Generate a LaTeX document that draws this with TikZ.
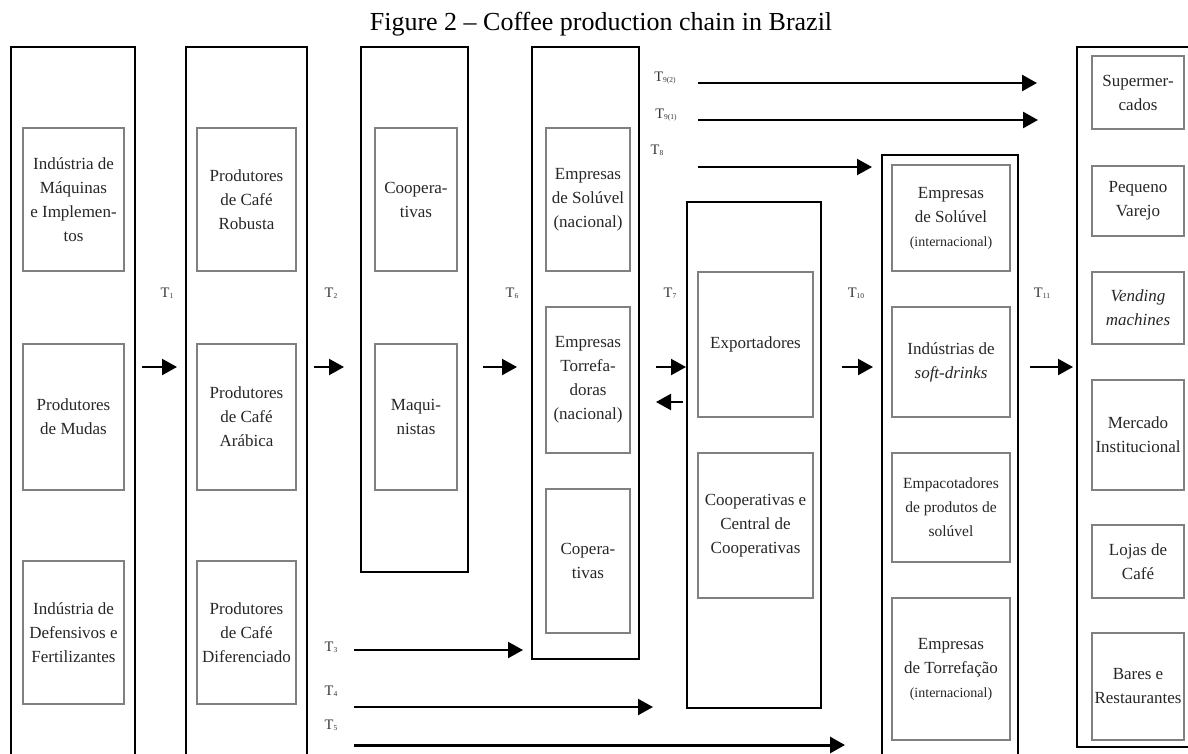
\documentclass[tikz,border=0pt]{standalone}
\usepackage{fontspec}
\setmainfont{Liberation Serif}
\usetikzlibrary{arrows.meta}
\tikzset{
  obox/.style={draw=black, line width=2.8pt, inner sep=0pt},
  ibox/.style={draw=black!50, line width=1.1pt, inner sep=0pt, align=center, text=black!85, font=\fontsize{17}{24}\selectfont},
  tlab/.style={font=\fontsize{14.5}{14.5}\selectfont, text=black!80, inner sep=0pt},
  arr/.style={line width=2.2pt, -{Triangle[length=15pt,width=16pt]}},
  titlestyle/.style={font=\fontsize{26}{30}\selectfont, inner sep=0pt},
}
\newcommand{\innerbx}[6]{\node[ibox,minimum width={(#4-#2)*1pt},minimum height={(#5-#3)*1pt}] (#1) at ({(#2+#4)/2},{(#3+#5)/2}) {#6};}
\newcommand{\outerbx}[5]{\node[obox,minimum width={(#4-#2)*1pt},minimum height={(#5-#3)*1pt}] (#1) at ({(#2+#4)/2},{(#3+#5)/2}) {};}
\newcommand{\tsb}[1]{\raisebox{-1pt}{\fontsize{7.5}{7.5}\selectfont #1}}
\newcommand{\smallintl}[1]{{\fontsize{14}{24}\selectfont #1}}
\begin{document}
\begin{tikzpicture}[x=1pt,y=-1pt]
\useasboundingbox (0,0) rectangle (1188,753);
\clip (0,0) rectangle (1188,753);

\node[titlestyle] (title) at (601,24) {Figure 2 -- Coffee production chain in Brazil};

% outer boxes
\outerbx{c1}{11}{47}{135}{775}
\outerbx{c2}{186}{47}{307}{775}
\outerbx{c3}{361}{47}{468}{572}
\outerbx{c4}{532}{47}{639}{659}
\outerbx{c5}{687}{202}{821}{708}
\outerbx{c6}{882}{155}{1018}{775}
\outerbx{c7}{1077}{47}{1205}{747}

% column 1
\innerbx{m1}{23}{128}{124}{271}{Indústria de\\Máquinas\\e Implemen-\\tos}
\innerbx{m2}{23}{344}{124}{490}{Produtores\\de Mudas}
\innerbx{m3}{23}{561}{124}{704}{Indústria de\\Defensivos e\\Fertilizantes}
% column 2
\innerbx{p1}{197}{128}{296}{271}{Produtores\\de Café\\Robusta}
\innerbx{p2}{197}{344}{296}{490}{Produtores\\de Café\\Arábica}
\innerbx{p3}{197}{561}{296}{704}{Produtores\\de Café\\Diferenciado}
% column 3
\innerbx{q1}{375}{128}{457}{271}{Coopera-\\tivas}
\innerbx{q2}{375}{344}{457}{490}{Maqui-\\nistas}
% column 4
\innerbx{r1}{546}{128}{630}{271}{Empresas\\de Solúvel\\(nacional)}
\innerbx{r2}{546}{307}{630}{453}{Empresas\\Torrefa-\\doras\\(nacional)}
\innerbx{r3}{546}{489}{630}{633}{Copera-\\tivas}
% column 5
\innerbx{s1}{698}{272}{813}{417}{Exportadores}
\innerbx{s2}{698}{453}{813}{598}{Cooperativas e\\Central de\\Cooperativas}
% column 6
\innerbx{u1}{892}{165}{1010}{271}{Empresas\\de Solúvel\\\smallintl{(internacional)}}
\innerbx{u2}{892}{307}{1010}{417}{Indústrias de\\\textit{soft-drinks}}
\innerbx{u3}{892}{453}{1010}{562}{\fontsize{15.5}{23}\selectfont Empacotadores\\\fontsize{15.5}{23}\selectfont de produtos de\\\fontsize{15.5}{23}\selectfont solúvel}
\innerbx{u4}{892}{598}{1010}{740}{Empresas\\de Torrefação\\\smallintl{(internacional)}}
% column 7
\innerbx{v1}{1092}{56}{1184}{129}{Supermer-\\cados}
\innerbx{v2}{1092}{166}{1184}{236}{Pequeno\\Varejo}
\innerbx{v3}{1092}{272}{1184}{344}{\textit{Vending}\\\textit{machines}}
\innerbx{v4}{1092}{380}{1184}{490}{Mercado\\Institucional}
\innerbx{v5}{1092}{525}{1184}{598}{Lojas de\\Café}
\innerbx{v6}{1092}{633}{1184}{740}{Bares e\\Restaurantes}

% transaction labels
\node[tlab] (t1) at (167,293) {T\tsb{1}};
\node[tlab] (t2) at (331,293) {T\tsb{2}};
\node[tlab] (t6) at (512,293) {T\tsb{6}};
\node[tlab] (t7) at (670,293) {T\tsb{7}};
\node[tlab] (t10) at (856,293) {T\tsb{10}};
\node[tlab] (t11) at (1042,293) {T\tsb{11}};
\node[tlab] (t3) at (331,647) {T\tsb{3}};
\node[tlab] (t4) at (331,691) {T\tsb{4}};
\node[tlab] (t5) at (331,725) {T\tsb{5}};
\node[tlab] (t8) at (657,150) {T\tsb{8}};
\node[tlab] (t92) at (665,78) {T\tsb{9(2)}};
\node[tlab] (t91) at (666,115) {T\tsb{9(1)}};

% arrow end points
\coordinate (a1s) at (142,367); \coordinate (a1e) at (177,367);
\coordinate (a2s) at (314,367); \coordinate (a2e) at (344,367);
\coordinate (a6s) at (483,367); \coordinate (a6e) at (517,367);
\coordinate (a7s) at (656,367); \coordinate (a7e) at (686,367);
\coordinate (b7s) at (683,402); \coordinate (b7e) at (656,402);
\coordinate (a10s) at (842,367); \coordinate (a10e) at (873,367);
\coordinate (a11s) at (1030,367); \coordinate (a11e) at (1073,367);
\coordinate (a3s) at (354,650); \coordinate (a3e) at (523,650);
\coordinate (a4s) at (354,707); \coordinate (a4e) at (653,707);
\coordinate (a5s) at (354,745); \coordinate (a5e) at (845,745);
\coordinate (a8s) at (698,167); \coordinate (a8e) at (872,167);
\coordinate (a91s) at (698,120); \coordinate (a91e) at (1038,120);
\coordinate (a92s) at (698,83); \coordinate (a92e) at (1037,83);

\draw[arr] (a1s) -- (a1e);
\draw[arr] (a2s) -- (a2e);
\draw[arr] (a6s) -- (a6e);
\draw[arr] (a7s) -- (a7e);
\draw[arr] (b7s) -- (b7e);
\draw[arr] (a10s) -- (a10e);
\draw[arr] (a11s) -- (a11e);
\draw[arr] (a3s) -- (a3e);
\draw[arr] (a4s) -- (a4e);
\draw[arr, line width=3pt] (a5s) -- (a5e);
\draw[arr] (a8s) -- (a8e);
\draw[arr, line width=2.6pt] (a91s) -- (a91e);
\draw[arr, line width=2.6pt] (a92s) -- (a92e);
\end{tikzpicture}
\end{document}
